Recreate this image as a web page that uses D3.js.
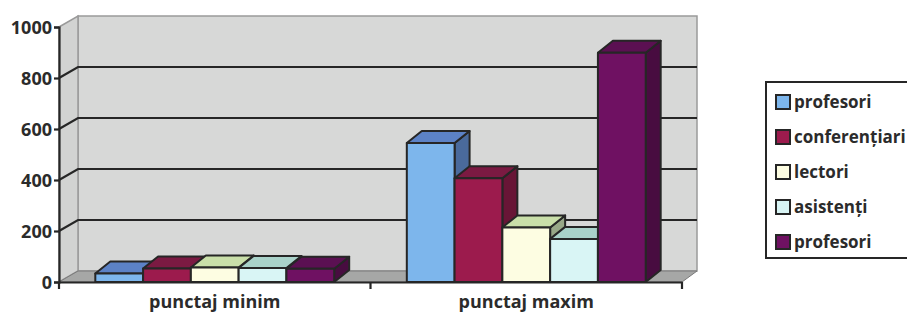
<!DOCTYPE html>
<html><head><meta charset="utf-8">
<script src="https://cdn.jsdelivr.net/npm/d3@7"></script>
<style>body{margin:0;background:#fff}svg{display:block}text{font-family:"Open Sans",Lato,sans-serif;font-weight:bold;fill:#2b2b2b}</style>
</head><body><svg id="c" width="907" height="316"></svg>
<script>
const categories = ["punctaj minim", "punctaj maxim"];
const seriesNames = ["profesori", "conferențiari", "lectori", "asistenți", "profesori"];
const seriesValues = [[33, 545], [53, 407], [57, 214], [55, 169], [52, 899]];
const yTicks = [0, 200, 400, 600, 800, 1000];
const frontColors = ["#7db6ec", "#9c1b4d", "#fdfde2", "#d9f5f5", "#6f1162"];
const topColors   = ["#5c82c6", "#7b1a42", "#c9dfa9", "#a9d2c9", "#5b1052"];
const sideColors  = ["#4a6a9c", "#681536", "#98a888", "#82aaa2", "#480c40"];

const svg = d3.select("#c");
const L = 59, R = 682, Y0 = 282, Y1 = 27;
const wdx = 19, wdxR = 15, wdy = -11;   // wall depth
const bdx = 15, bdy = -12;              // bar depth
const FS = 18, LFS = 17;

const y = d3.scaleLinear().domain([0, 1000]).range([Y0, Y1]);
const x = d3.scaleBand().domain(categories).range([L, R]).padding(0);
const xs = d3.scaleBand().domain(d3.range(seriesNames.length)).range([0, x.bandwidth()]).paddingInner(0).paddingOuter(0.76);

const dark = "#262626";
// back wall
svg.append("polygon")
  .attr("points", [[L + wdx, y(1000) + wdy], [R + wdxR, y(1000) + wdy], [R + wdxR, y(0) + wdy], [L + wdx, y(0) + wdy]].join(" "))
  .attr("fill", "#d7d8d7").attr("stroke", "#9a9a9a").attr("stroke-width", 1.5);
// left wall
svg.append("polygon")
  .attr("points", [[L, y(1000)], [L + wdx, y(1000) + wdy], [L + wdx, y(0) + wdy], [L, y(0)]].join(" "))
  .attr("fill", "#d2d3d2").attr("stroke", "#9a9a9a").attr("stroke-width", 1.5);
// floor
svg.append("polygon")
  .attr("points", [[L, y(0)], [L + wdx, y(0) + wdy], [R + wdxR, y(0) + wdy], [R, y(0)]].join(" "))
  .attr("fill", "#a6a7a6").attr("stroke", "#7a7a7a").attr("stroke-width", 1);

// gridlines
const gt = yTicks.filter(t => t > 0 && t < 1000);
svg.selectAll(".g").data(gt).join("path")
  .attr("d", t => `M${L},${y(t)}L${L + wdx},${y(t) + wdy}L${R + wdxR},${y(t) + wdy}`)
  .attr("fill", "none").attr("stroke", dark).attr("stroke-width", 2.2);

// bars
categories.forEach((c, ci) => {
  seriesNames.forEach((s, si) => {
    const v = seriesValues[si][ci];
    const x0 = x(c) + xs(si), x1 = x0 + xs.bandwidth();
    const yt = y(v), yb = y(0);
    const g = svg.append("g").attr("stroke", dark).attr("stroke-width", 2).attr("stroke-linejoin", "round");
    g.append("polygon").attr("fill", sideColors[si])
      .attr("points", [[x1, yt], [x1 + bdx, yt + bdy], [x1 + bdx, yb + bdy], [x1, yb]].join(" "));
    g.append("polygon").attr("fill", topColors[si])
      .attr("points", [[x0, yt], [x0 + bdx, yt + bdy], [x1 + bdx, yt + bdy], [x1, yt]].join(" "));
    g.append("rect").attr("fill", frontColors[si])
      .attr("x", x0).attr("y", yt).attr("width", x1 - x0).attr("height", yb - yt);
  });
});

// y axis
const ya = svg.append("g").attr("transform", `translate(${L},0)`)
  .call(d3.axisLeft(y).tickValues(yTicks).tickFormat(d3.format("d")).tickSize(5).tickPadding(2));
ya.select(".domain").attr("stroke", dark).attr("stroke-width", 2.2);
ya.selectAll(".tick line").attr("stroke", dark).attr("stroke-width", 2.2);
ya.selectAll("text").attr("font-size", FS).style("font-family", "'Open Sans'").style("font-weight", "bold").attr("fill", "#2b2b2b").attr("dy", "0.36em");

// x axis
const xa = svg.append("g").attr("transform", `translate(0,${Y0})`)
  .call(d3.axisBottom(x).tickValues([]).tickSizeOuter(0));
xa.select(".domain").attr("stroke", dark).attr("stroke-width", 2.2);
const bounds = [L, ...categories.map(c => x(c) + x.bandwidth())];
xa.selectAll(".bt").data(bounds).join("line").attr("x1", d => d).attr("x2", d => d)
  .attr("y1", 0).attr("y2", 7).attr("stroke", dark).attr("stroke-width", 2.2);
xa.selectAll(".cl").data(categories).join("text")
  .attr("x", d => x(d) + x.bandwidth() / 2).attr("y", 26)
  .attr("text-anchor", "middle").attr("font-size", FS).text(d => d);

// legend
const lg = svg.append("g");
lg.append("rect").attr("x", 766).attr("y", 82).attr("width", 160).attr("height", 176)
  .attr("fill", "#fff").attr("stroke", dark).attr("stroke-width", 2);
const items = lg.selectAll(".li").data(seriesNames).join("g")
  .attr("transform", (d, i) => `translate(776,${102 + i * 35})`);
items.append("rect").attr("x", 0).attr("y", -7).attr("width", 14).attr("height", 14)
  .attr("fill", (d, i) => frontColors[i]).attr("stroke", dark).attr("stroke-width", 2);
items.append("text").attr("x", 18).attr("y", 6).attr("font-size", LFS).text(d => d);
</script></body></html>
